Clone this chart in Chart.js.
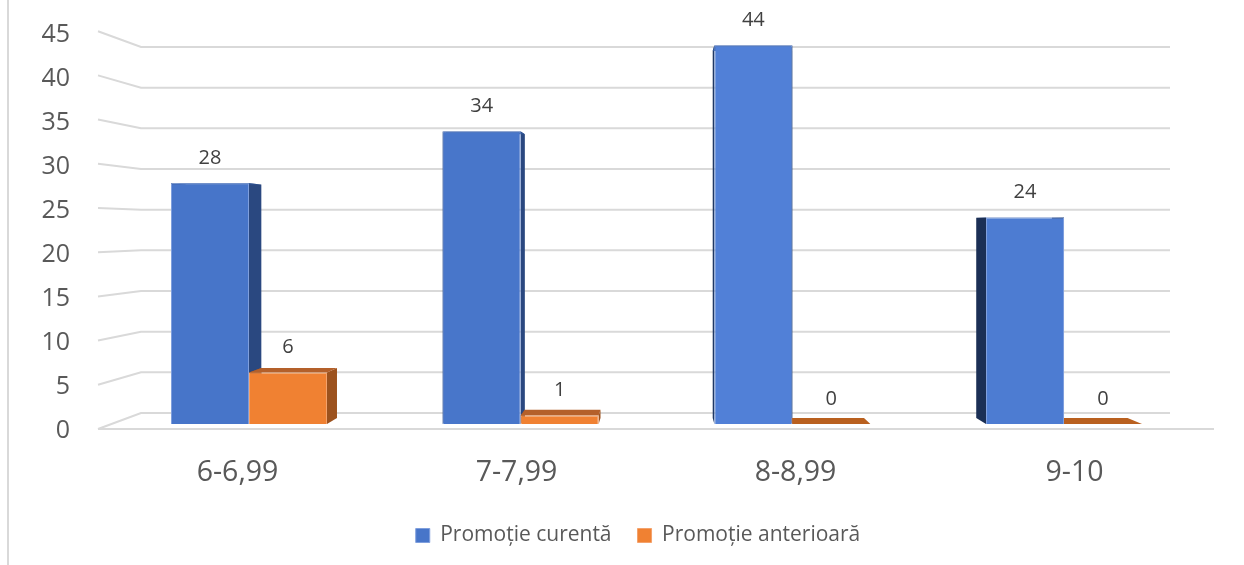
<!DOCTYPE html>
<html>
<head>
<meta charset="utf-8">
<style>
    html, body { margin: 0; padding: 0; background: #fff; }
    #wrap { width: 1244px; height: 565px; }
</style>
<script src="https://cdn.jsdelivr.net/npm/chart.js@4/dist/chart.umd.js"></script>
</head>
<body>
<div id="wrap"><canvas id="grafica"></canvas></div>
<script>
const categorii = ['6-6,99', '7-7,99', '8-8,99', '9-10'];
const promotieCurenta = [28, 34, 44, 24];
const promotieAnterioara = [6, 1, 0, 0];
const etichetaCurenta = 'Promoție curentă';
const etichetaAnterioara = 'Promoție anterioară';
const pasAxa = 5;
const maxAxa = 45;

const fontText = '"Open Sans", "Noto Sans", sans-serif';

//Zona graficului, in pixeli
const AREA = { left: 98, right: 1214, top: 35, bottom: 431 };

//Perspectiva falsa 3D: fiecare colt din fata are un corespondent spre punctul de fuga
const FUGA = { x: 660, y: 224, k: 0.03 };
function inSpate(x, y) {
    return [x + FUGA.k * (FUGA.x - x), y + FUGA.k * (FUGA.y - y)];
}

//Scala ascunsa pentru un plan: unde cade zero si cati pixeli are o unitate
function plan(zeroPx, pxUnitate) {
    return {
        type: 'linear',
        display: false,
        min: (zeroPx - AREA.bottom) / pxUnitate,
        max: (zeroPx - AREA.top) / pxUnitate
    };
}

//Barele stau pe un plan mai stramt decat etichetele de categorie
const primaBara = 249;
const pasBare = 271.67;

function poligon(ctx, puncte, culoare) {
    ctx.fillStyle = culoare;
    ctx.beginPath();
    puncte.forEach((p, i) => i ? ctx.lineTo(p[0], p[1]) : ctx.moveTo(p[0], p[1]));
    ctx.closePath();
    ctx.fill();
}

const fundal3D = {
    id: 'fundal3D',
    afterLayout(chart) {
        //Legenda nu e centrata pe fereastra in original
        chart.legend.left += 15;
        chart.legend.right += 15;
    },
    beforeDatasetsDraw(chart) {
        const ctx = chart.ctx;
        const { yMargine, ySpate } = chart.scales;
        const peretePx = 43;
        const capatPerete = 1170;
        ctx.save();

        //Linia verticala din stanga a cadrului
        ctx.strokeStyle = '#D9D9D9';
        ctx.lineWidth = 2;
        ctx.beginPath();
        ctx.moveTo(8, 0);
        ctx.lineTo(8, 565);
        ctx.stroke();

        //Liniile de grila: peretele lateral si peretele din spate
        for (let v = 0; v <= maxAxa; v += pasAxa) {
            ctx.beginPath();
            ctx.moveTo(AREA.left, yMargine.getPixelForValue(v));
            ctx.lineTo(AREA.left + peretePx, ySpate.getPixelForValue(v));
            ctx.lineTo(capatPerete, ySpate.getPixelForValue(v));
            ctx.stroke();
        }
        ctx.beginPath();
        ctx.moveTo(AREA.left, yMargine.getPixelForValue(0));
        ctx.lineTo(AREA.right, yMargine.getPixelForValue(0));
        ctx.stroke();

        //Fetele laterale si de sus ale barelor
        const culori = [
            { lat: ['#2A4880', '#2A4880', '#1F3864', '#1B2F55'], sus: ['#2F5597', '#2F5597', '#2F5597', '#2F5597'] },
            { lat: ['#9C521E', '#9C521E', '#B4602A', '#B4602A'], sus: ['#B4602A', '#B4602A', '#B9601F', '#B9601F'] }
        ];
        chart.data.datasets.forEach((ds, d) => {
            chart.getDatasetMeta(d).data.forEach((bar, i) => {
                const st = bar.x - bar.width / 2;
                const dr = bar.x + bar.width / 2;
                const sus = bar.y;
                const jos = bar.base;
                poligon(ctx, [[dr, sus], [dr, jos], inSpate(dr, jos), inSpate(dr, sus)], culori[d].lat[i]);
                poligon(ctx, [[st, sus], [st, jos], inSpate(st, jos), inSpate(st, sus)], culori[d].lat[i]);
                poligon(ctx, [[st, sus], [dr, sus], inSpate(dr, sus), inSpate(st, sus)], culori[d].sus[i]);
            });
        });
        ctx.restore();
    },
    afterDatasetsDraw(chart) {
        //Etichetele de valoare de deasupra barelor
        const ctx = chart.ctx;
        ctx.save();
        ctx.font = '20px ' + fontText;
        ctx.fillStyle = '#404040';
        ctx.textAlign = 'center';
        ctx.textBaseline = 'middle';
        chart.data.datasets.forEach((ds, d) => {
            chart.getDatasetMeta(d).data.forEach((bar, i) => {
                ctx.fillText(ds.data[i].y, bar.x, bar.y - 25);
            });
        });
        ctx.restore();
    }
};

new Chart(document.getElementById('grafica').getContext('2d'), {
    type: 'bar',
    plugins: [fundal3D],
    data: {
        datasets: [{
            label: etichetaCurenta,
            data: promotieCurenta.map((v, i) => ({ x: i, y: v })),
            xAxisID: 'xBare',
            yAxisID: 'yBare',
            backgroundColor: ['#4775C9', '#4876CA', '#5180D7', '#4D7CD2'],
            borderColor: '#7F9FDD',
            borderWidth: 1,
            inflateAmount: 0,
            barThickness: 78
        }, {
            label: etichetaAnterioara,
            data: promotieAnterioara.map((v, i) => ({ x: i, y: v })),
            xAxisID: 'xBare',
            yAxisID: 'yBare',
            backgroundColor: '#F08132',
            borderColor: '#F4A26C',
            borderWidth: 1,
            inflateAmount: 0,
            barThickness: 78
        }]
    },
    options: {
        responsive: true,
        maintainAspectRatio: false,
        animation: false,
        layout: {
            padding: { left: 32, right: 1244 - AREA.right, top: AREA.top, bottom: 9 }
        },
        scales: {
            x: {
                type: 'category',
                labels: categorii,
                offset: true,
                position: 'bottom',
                grid: { display: false, drawTicks: false },
                border: { display: false },
                ticks: {
                    color: '#595959',
                    font: { family: fontText, size: 28.5 },
                    padding: 25,
                    maxRotation: 0,
                    autoSkip: false
                },
                afterFit(scale) { scale.height = 68; }
            },
            y: {
                type: 'linear',
                position: 'left',
                min: 0,
                max: maxAxa,
                grid: { display: false, drawTicks: false },
                border: { display: false },
                ticks: {
                    stepSize: pasAxa,
                    color: '#595959',
                    font: { family: fontText, size: 25 },
                    padding: 28
                },
                afterFit(scale) {
                    //Padding-ul etichetelor nu trebuie sa mute zona graficului
                    scale.width = AREA.left - 32;
                    scale.paddingTop = 0;
                    scale.paddingBottom = 0;
                }
            },
            xBare: {
                type: 'linear',
                axis: 'x',
                display: false,
                offset: false,
                min: (AREA.left - primaBara) / pasBare,
                max: (AREA.right - primaBara) / pasBare
            },
            yBare: plan(424, 8.6),
            ySpate: plan(413, 8.133),
            yMargine: plan(429, 8.84)
        },
        plugins: {
            tooltip: { enabled: false },
            legend: {
                position: 'bottom',
                labels: {
                    color: '#595959',
                    font: { family: fontText, size: 21 },
                    boxWidth: 14,
                    boxHeight: 14,
                    padding: 26
                }
            }
        }
    }
});
</script>
</body>
</html>
